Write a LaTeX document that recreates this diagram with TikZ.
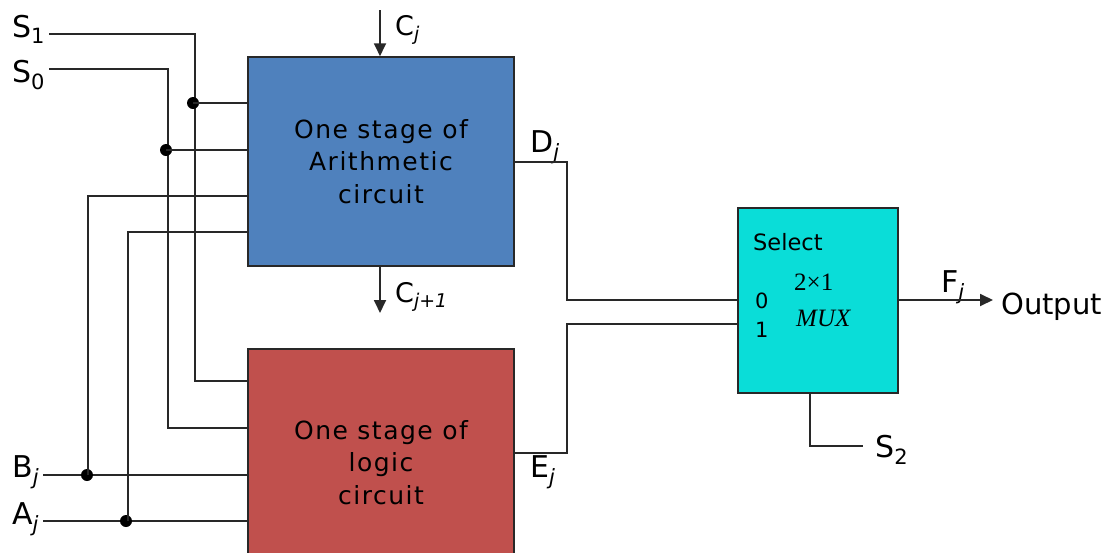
\documentclass[tikz,border=0pt]{standalone}
\usepackage{fontspec}
\setmainfont{DejaVu Sans}
\newfontfamily\boxfont[LetterSpace=6]{DejaVu Sans}
\newfontfamily\serifmux{Liberation Serif}
\usetikzlibrary{arrows.meta}
\definecolor{blueC}{RGB}{79,129,189}
\definecolor{redC}{RGB}{192,80,77}
\definecolor{cyanC}{RGB}{10,221,216}
\definecolor{wireC}{RGB}{40,40,40}
\newcommand{\sj}{\textsubscript{\itshape j}}
\tikzset{
  box/.style={draw=wireC, line width=1.5pt, inner sep=0pt, align=center},
  wire/.style={draw=wireC, line width=1.8pt},
  arr/.style={wire, -{Triangle[length=13pt,width=12pt]}},
  lbl/.style={inner sep=0pt, font=\fontsize{30}{32}\selectfont},
  dotc/.style={circle, fill=black, inner sep=0pt, minimum size=12pt},
  boxtxt/.style={font=\boxfont\fontsize{25}{32.5}\selectfont},
}
\begin{document}
\begin{tikzpicture}[x=1pt,y=-1pt]
\useasboundingbox (0,0) rectangle (1117,552);
% blocks
\node[box, fill=blueC, minimum width=266pt, minimum height=209pt, boxtxt] (arith) at (381,161.5) {One stage of\\Arithmetic\\circuit};
\node[box, fill=redC, minimum width=266pt, minimum height=227pt, anchor=north, boxtxt] (logic) at (381,348) {One stage of\\logic\\circuit};
\node[box, fill=cyanC, minimum width=160pt, minimum height=185pt] (mux) at (818,300.5) {};
% mux inner text
\node[inner sep=0pt, anchor=base west, font=\fontsize{22.5}{24}\selectfont] (sel) at (753,250) {Select};
\node[inner sep=0pt, anchor=base west, font=\fontsize{21}{24}\selectfont] (in0) at (755,308) {0};
\node[inner sep=0pt, anchor=base west, font=\fontsize{21}{24}\selectfont] (in1) at (755,337) {1};
\node[inner sep=0pt, anchor=base west, font=\serifmux\fontsize{25}{26}\selectfont] (two) at (794,290) {2×1};
\node[inner sep=0pt, anchor=base west, font=\serifmux\itshape\fontsize{25}{26}\selectfont] (muxt) at (796,326) {MUX};
% labels
\node[lbl, anchor=base west] (s1) at (12,37) {S\textsubscript{1}};
\node[lbl, anchor=base west] (s0) at (12,82) {S\textsubscript{0}};
\node[lbl, anchor=base west] (bj) at (12,477) {B\sj};
\node[lbl, anchor=base west] (aj) at (12,524) {A\sj};
\node[lbl, anchor=base west, font=\fontsize{27}{30}\selectfont] (cj) at (395,35) {C\sj};
\node[lbl, anchor=base west, font=\fontsize{27}{30}\selectfont] (cj1) at (395,302) {C\textsubscript{\itshape j+1}};
\node[lbl, anchor=base west] (dj) at (530,152) {D\sj};
\node[lbl, anchor=base west] (ej) at (530,477) {E\sj};
\node[lbl, anchor=base west] (fj) at (941,292) {F\sj};
\node[lbl, anchor=base west, font=\fontsize{29}{32}\selectfont] (out) at (1001,314) {Output};
\node[lbl, anchor=base west] (s2) at (875,457) {S\textsubscript{2}};
% carry arrows
\coordinate (cin) at (380,10);
\coordinate (cout) at (380,313);
\draw[arr] (cin) -- (arith.north -| cin);
\draw[arr] (arith.south -| cout) -- (cout);
% select wires
\draw[wire] ([xshift=4pt]s1.base east |- 0,34) -| (195,381) -- (logic.west |- 0,381);
\draw[wire] ([xshift=4pt]s0.base east |- 0,69) -| (168,428) -- (logic.west |- 0,428);
\node[dotc] (d1) at (193,103) {};
\node[dotc] (d2) at (166,150) {};
\draw[wire] (d1.center) -- (arith.west |- d1.center);
\draw[wire] (d2.center) -- (arith.west |- d2.center);
% data wires
\draw[wire] ([xshift=4pt]bj.base east |- 0,475) -- (logic.west |- 0,475);
\draw[wire] ([xshift=4pt]aj.base east |- 0,521) -- (logic.west |- 0,521);
\node[dotc] (d3) at (87,475) {};
\node[dotc] (d4) at (126,521) {};
\draw[wire] (88,475) |- (arith.west |- 0,196);
\draw[wire] (128,521) |- (arith.west |- 0,232);
% outputs to mux
\draw[wire] (arith.east |- 0,162) -| (567,300) -- (mux.west |- 0,300);
\draw[wire] (logic.east |- 0,453) -| (567,324) -- (mux.west |- 0,324);
\draw[arr] (mux.east |- 0,300) -- ([xshift=-8pt]out.west |- 0,300);
\draw[wire] (mux.south -| 810,0) |- ([xshift=-12pt]s2.west |- 0,446);
\end{tikzpicture}
\end{document}
